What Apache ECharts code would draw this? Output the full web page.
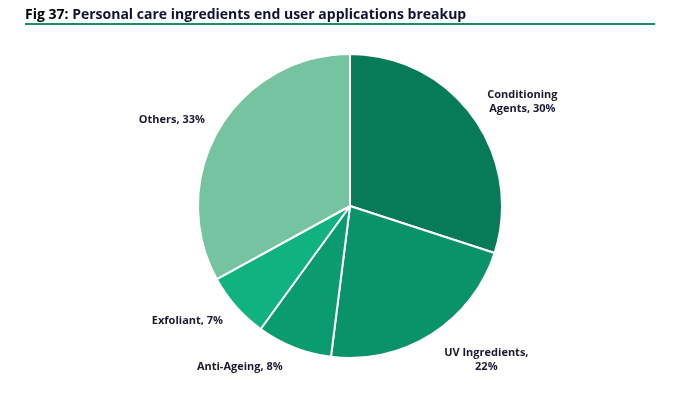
<!DOCTYPE html>
<html><head><meta charset="utf-8">
<script src="https://cdn.jsdelivr.net/npm/echarts@6/dist/echarts.min.js"></script>
<style>html,body{margin:0;padding:0;background:#fff}#c{width:692px;height:397px}</style>
</head><body><div id="c"></div>
<script>
const categories = ['Conditioning Agents', 'UV Ingredients', 'Anti-Ageing', 'Exfoliant', 'Others'];
const values = [30, 22, 8, 7, 33];
const labelTexts = ['Conditioning\nAgents, 30%', 'UV Ingredients,\n22%', 'Anti-Ageing, 8%', 'Exfoliant, 7%', 'Others, 33%'];
const colors = ['#077b58', '#0a9368', '#0a9c6c', '#10b27e', '#76c3a1'];
const labelNudge = [[-7, -3], [-3, 9], [1, 1], [7, 1], [8, 1]];

const chart = echarts.init(document.getElementById('c'), null, {renderer: 'canvas'});
chart.setOption({
  animation: false,
  title: {
    text: '{a|Fig 37:} Personal care ingredients end user applications breakup',
    left: 20, top: 3,
    textStyle: {
      fontFamily: 'Open Sans', fontSize: 14, fontWeight: 'bold', color: '#111133',
      rich: { a: { fontFamily: 'Open Sans', fontSize: 14, fontWeight: 'bold', color: '#000' } }
    }
  },
  graphic: [{
    type: 'line', shape: {x1: 25, y1: 24, x2: 655, y2: 24},
    style: {stroke: '#1a9060', lineWidth: 2}
  }],
  series: [{
    type: 'pie',
    center: [350, 206],
    radius: 152,
    startAngle: 90,
    clockwise: true,
    data: categories.map((n, i) => ({name: n, value: values[i], itemStyle: {color: colors[i]}})),
    itemStyle: {borderColor: '#fff', borderWidth: 2},
    label: {
      show: true, position: 'outside',
      formatter: p => labelTexts[p.dataIndex],
      fontFamily: 'Open Sans', fontSize: 11, fontWeight: 'bold', color: '#1a1a33',
      lineHeight: 14
    },
    labelLine: {show: false, length: 20, length2: 0},
    labelLayout: p => ({
      x: p.labelRect.x + p.labelRect.width / 2 + labelNudge[p.dataIndex][0],
      y: p.labelRect.y + p.labelRect.height / 2 + labelNudge[p.dataIndex][1],
      align: 'center', verticalAlign: 'middle'
    }),
    emphasis: {disabled: true}
  }]
});
</script></body></html>
